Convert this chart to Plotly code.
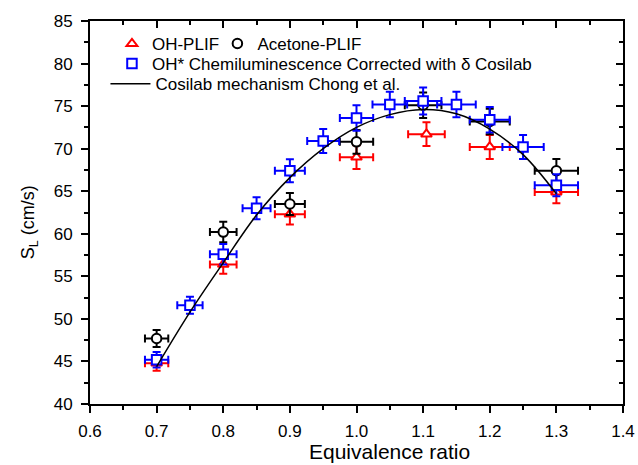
import plotly.graph_objects as go

# OH-PLIF
oh_x = [0.7, 0.8, 0.9, 1.0, 1.105, 1.2, 1.3]
oh_y = [44.8, 56.4, 62.3, 69.0, 71.7, 70.2, 64.9]
oh_xerr = [0.0175, 0.02, 0.0225, 0.025, 0.0275, 0.03, 0.0325]
oh_yerr = [0.9, 1.1, 1.2, 1.4, 1.4, 1.4, 1.3]

# Acetone-PLIF
ac_x = [0.7, 0.8, 0.9, 1.0, 1.1, 1.2, 1.3]
ac_y = [47.7, 60.2, 63.5, 70.8, 75.1, 73.2, 67.4]
ac_xerr = [0.0175, 0.02, 0.0225, 0.025, 0.0275, 0.03, 0.0325]
ac_yerr = [1.0, 1.2, 1.3, 1.4, 1.5, 1.5, 1.4]

# OH* chemiluminescence corrected
ch_x = [0.7, 0.75, 0.8, 0.85, 0.9, 0.95, 1.0, 1.05, 1.1, 1.15, 1.2, 1.25, 1.3]
ch_y = [45.2, 51.6, 57.6, 63.0, 67.4, 70.9, 73.6, 75.2, 75.6, 75.2, 73.4, 70.2, 65.7]
ch_xerr = [0.0175, 0.019, 0.02, 0.021, 0.0225, 0.024, 0.025, 0.026, 0.0275, 0.029, 0.03, 0.031, 0.0325]
ch_yerr = [0.9, 1.0, 1.2, 1.3, 1.35, 1.4, 1.5, 1.5, 1.6, 1.5, 1.5, 1.4, 1.3]

# Cosilab mechanism (Chong et al.)
cs_x = [0.7, 0.75, 0.8, 0.85, 0.9, 0.95, 1.0, 1.05, 1.1, 1.15, 1.2, 1.25, 1.3]
cs_y = [44.4, 50.8, 56.6, 62.2, 66.6, 70.0, 72.5, 74.0, 74.6, 74.1, 72.3, 69.3, 64.7]

x_ticks = [0.6, 0.7, 0.8, 0.9, 1.0, 1.1, 1.2, 1.3, 1.4]
y_ticks = [40, 45, 50, 55, 60, 65, 70, 75, 80, 85]

FONT = "Liberation Sans, Arial, sans-serif"

def err_scatter(x, y, xe, ye, color, symbol, name, legend):
    return go.Scatter(
        x=x, y=y, mode="markers", name=name, legend=legend,
        marker=dict(symbol=symbol, size=9.5, color="white",
                    line=dict(color=color, width=2)),
        error_x=dict(type="data", array=xe, color=color, thickness=2, width=4),
        error_y=dict(type="data", array=ye, color=color, thickness=2, width=4),
    )

fig = go.Figure()
fig.add_trace(err_scatter(oh_x, oh_y, oh_xerr, oh_yerr, "#ff0000", "triangle-up", "OH-PLIF", "legend"))
fig.add_trace(err_scatter(ac_x, ac_y, ac_xerr, ac_yerr, "#000000", "circle", "Acetone-PLIF", "legend2"))
fig.add_trace(err_scatter(ch_x, ch_y, ch_xerr, ch_yerr, "#0000ff", "square",
                          "OH* Chemiluminescence Corrected with δ Cosilab", "legend3"))
fig.add_trace(go.Scatter(x=cs_x, y=cs_y, mode="lines", name="Cosilab mechanism Chong et al.",
                         legend="legend4", line=dict(color="black", width=1.5, shape="spline")))

# invisible trace to drive top / right axes
fig.add_trace(go.Scatter(x=[x_ticks[0]], y=[y_ticks[0]], xaxis="x2", yaxis="y2",
                         mode="markers", marker=dict(opacity=0), showlegend=False, hoverinfo="skip"))

axis_common = dict(showline=True, linecolor="black", linewidth=2, showgrid=False,
                   zeroline=False, tickcolor="black", tickwidth=2, ticklen=7, automargin=False,
                   tickfont=dict(family=FONT, size=17, color="black"))

leg_common = dict(xanchor="left", yanchor="top", orientation="v",
                  bgcolor="rgba(0,0,0,0)", font=dict(family=FONT, size=17, color="black"))

fig.update_layout(
    width=638, height=465,
    margin=dict(l=90, r=14.5, t=20.5, b=60.5),
    paper_bgcolor="white", plot_bgcolor="white",
    font=dict(family=FONT, size=17, color="black"),
    xaxis=dict(range=[0.6, 1.4], tickvals=x_ticks, ticktext=[f"{v:.1f}" for v in x_ticks],
               ticks="outside", ticklabelstandoff=4,
               minor=dict(dtick=0.05, ticks="outside", ticklen=4, tickwidth=2, tickcolor="black"),
               **axis_common),
    yaxis=dict(range=[40, 85], tickvals=y_ticks, ticks="outside", ticklabelstandoff=5,
               minor=dict(dtick=2.5, ticks="outside", ticklen=4, tickwidth=2, tickcolor="black"),
               **axis_common),
    xaxis2=dict(range=[0.6, 1.4], overlaying="x", side="top", tickvals=x_ticks,
                showticklabels=False, ticks="inside",
                minor=dict(dtick=0.05, ticks="inside", ticklen=4, tickwidth=2, tickcolor="black"),
                **axis_common),
    yaxis2=dict(range=[40, 85], overlaying="y", side="right", tickvals=y_ticks,
                showticklabels=False, ticks="inside",
                minor=dict(dtick=2.5, ticks="inside", ticklen=4, tickwidth=2, tickcolor="black"),
                **axis_common),
    legend=dict(x=0.0412, y=0.987, **leg_common),
    legend2=dict(x=0.2390, y=0.987, **leg_common),
    legend3=dict(x=0.0412, y=0.935, **leg_common),
    legend4=dict(x=0.0290, y=0.882, itemwidth=40, **leg_common),
    showlegend=True,
    annotations=[
        dict(text="Equivalence ratio", xref="paper", yref="paper", x=0.5623, y=-0.1237,
             xanchor="center", yanchor="middle", showarrow=False,
             font=dict(family=FONT, size=21, color="black")),
        dict(text="S<sub>L</sub> (cm/s)", xref="paper", yref="paper", x=-0.114, y=0.475,
             xanchor="center", yanchor="middle", showarrow=False, textangle=-90,
             font=dict(family=FONT, size=18, color="black")),
    ],
)

fig.write_html("out.html", config={"displayModeBar": False},
               post_script="document.body.style.margin='0';document.body.style.padding='0';")
